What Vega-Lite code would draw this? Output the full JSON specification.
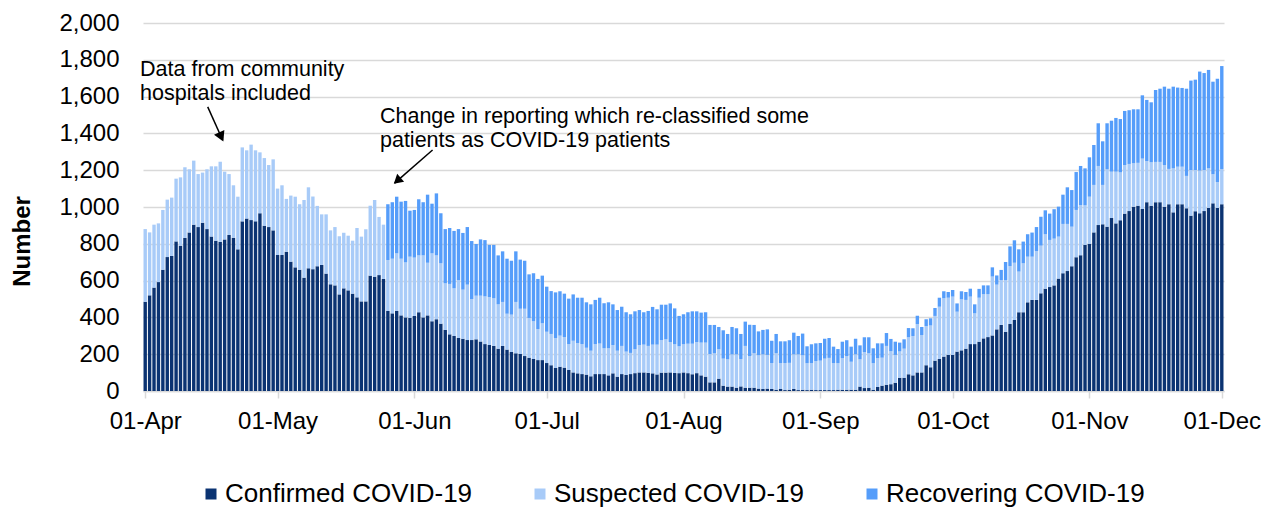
{
  "$schema": "https://vega.github.io/schema/vega-lite/v6.json",
  "width": 1081,
  "height": 368,
  "autosize": {"type": "none"},
  "padding": {"left": 143, "top": 23, "right": 53, "bottom": 118},
  "background": "white",
  "config": {"font": "Liberation Sans", "view": {"stroke": null}},
  "datasets": {
    "daily": [
      {"d":"2020-04-01","a":485,"b":395,"c":0},{"d":"2020-04-02","a":520,"b":342,"c":0},{"d":"2020-04-03","a":562,"b":342,"c":0},{"d":"2020-04-04","a":592,"b":319,"c":0},{"d":"2020-04-05","a":659,"b":325,"c":0},{"d":"2020-04-06","a":728,"b":312,"c":0},{"d":"2020-04-07","a":734,"b":317,"c":0},{"d":"2020-04-08","a":813,"b":341,"c":0},{"d":"2020-04-09","a":790,"b":371,"c":0},{"d":"2020-04-10","a":832,"b":384,"c":0},
      {"d":"2020-04-11","a":862,"b":343,"c":0},{"d":"2020-04-12","a":904,"b":348,"c":0},{"d":"2020-04-13","a":891,"b":288,"c":0},{"d":"2020-04-14","a":915,"b":272,"c":0},{"d":"2020-04-15","a":880,"b":325,"c":0},{"d":"2020-04-16","a":839,"b":382,"c":0},{"d":"2020-04-17","a":817,"b":404,"c":0},{"d":"2020-04-18","a":811,"b":435,"c":0},{"d":"2020-04-19","a":824,"b":368,"c":0},{"d":"2020-04-20","a":848,"b":331,"c":0},
      {"d":"2020-04-21","a":833,"b":285,"c":0},{"d":"2020-04-22","a":770,"b":286,"c":0},{"d":"2020-04-23","a":922,"b":402,"c":0},{"d":"2020-04-24","a":937,"b":371,"c":0},{"d":"2020-04-25","a":929,"b":410,"c":0},{"d":"2020-04-26","a":922,"b":386,"c":0},{"d":"2020-04-27","a":966,"b":331,"c":0},{"d":"2020-04-28","a":898,"b":368,"c":0},{"d":"2020-04-29","a":891,"b":337,"c":0},{"d":"2020-04-30","a":873,"b":386,"c":0},
      {"d":"2020-05-01","a":739,"b":361,"c":0},{"d":"2020-05-02","a":739,"b":379,"c":0},{"d":"2020-05-03","a":757,"b":287,"c":0},{"d":"2020-05-04","a":703,"b":359,"c":0},{"d":"2020-05-05","a":672,"b":384,"c":0},{"d":"2020-05-06","a":659,"b":356,"c":0},{"d":"2020-05-07","a":616,"b":422,"c":0},{"d":"2020-05-08","a":667,"b":440,"c":0},{"d":"2020-05-09","a":662,"b":395,"c":0},{"d":"2020-05-10","a":678,"b":328,"c":0},
      {"d":"2020-05-11","a":685,"b":275,"c":0},{"d":"2020-05-12","a":638,"b":322,"c":0},{"d":"2020-05-13","a":580,"b":293,"c":0},{"d":"2020-05-14","a":574,"b":317,"c":0},{"d":"2020-05-15","a":525,"b":316,"c":0},{"d":"2020-05-16","a":558,"b":302,"c":0},{"d":"2020-05-17","a":547,"b":297,"c":0},{"d":"2020-05-18","a":529,"b":288,"c":0},{"d":"2020-05-19","a":509,"b":377,"c":0},{"d":"2020-05-20","a":487,"b":352,"c":0},
      {"d":"2020-05-21","a":487,"b":392,"c":0},{"d":"2020-05-22","a":627,"b":380,"c":0},{"d":"2020-05-23","a":621,"b":417,"c":0},{"d":"2020-05-24","a":630,"b":316,"c":0},{"d":"2020-05-25","a":609,"b":295,"c":0},{"d":"2020-05-26","a":435,"b":277,"c":303},{"d":"2020-05-27","a":422,"b":297,"c":307},{"d":"2020-05-28","a":435,"b":313,"c":308},{"d":"2020-05-29","a":411,"b":308,"c":310},{"d":"2020-05-30","a":400,"b":299,"c":334},
      {"d":"2020-05-31","a":397,"b":333,"c":250},
      {"d":"2020-06-01","a":408,"b":317,"c":259},{"d":"2020-06-02","a":428,"b":309,"c":305},{"d":"2020-06-03","a":400,"b":337,"c":289},{"d":"2020-06-04","a":411,"b":286,"c":370},{"d":"2020-06-05","a":379,"b":369,"c":270},{"d":"2020-06-06","a":390,"b":347,"c":337},{"d":"2020-06-07","a":366,"b":328,"c":272},{"d":"2020-06-08","a":332,"b":253,"c":295},{"d":"2020-06-09","a":308,"b":274,"c":304},{"d":"2020-06-10","a":299,"b":259,"c":312},
      {"d":"2020-06-11","a":288,"b":315,"c":277},{"d":"2020-06-12","a":284,"b":267,"c":308},{"d":"2020-06-13","a":277,"b":301,"c":313},{"d":"2020-06-14","a":277,"b":223,"c":315},{"d":"2020-06-15","a":281,"b":237,"c":281},{"d":"2020-06-16","a":269,"b":249,"c":306},{"d":"2020-06-17","a":255,"b":259,"c":306},{"d":"2020-06-18","a":250,"b":261,"c":283},{"d":"2020-06-19","a":245,"b":259,"c":290},{"d":"2020-06-20","a":230,"b":241,"c":266},
      {"d":"2020-06-21","a":245,"b":239,"c":275},{"d":"2020-06-22","a":225,"b":195,"c":299},{"d":"2020-06-23","a":212,"b":203,"c":293},{"d":"2020-06-24","a":205,"b":279,"c":275},{"d":"2020-06-25","a":201,"b":246,"c":267},{"d":"2020-06-26","a":190,"b":257,"c":261},{"d":"2020-06-27","a":181,"b":216,"c":237},{"d":"2020-06-28","a":174,"b":205,"c":261},{"d":"2020-06-29","a":168,"b":169,"c":272},{"d":"2020-06-30","a":168,"b":200,"c":259},
      {"d":"2020-07-01","a":152,"b":170,"c":245},{"d":"2020-07-02","a":140,"b":170,"c":233},{"d":"2020-07-03","a":125,"b":163,"c":248},{"d":"2020-07-04","a":132,"b":169,"c":241},{"d":"2020-07-05","a":127,"b":166,"c":236},{"d":"2020-07-06","a":114,"b":141,"c":247},{"d":"2020-07-07","a":101,"b":172,"c":252},{"d":"2020-07-08","a":96,"b":165,"c":246},{"d":"2020-07-09","a":92,"b":163,"c":252},{"d":"2020-07-10","a":89,"b":146,"c":247},
      {"d":"2020-07-11","a":80,"b":139,"c":252},{"d":"2020-07-12","a":92,"b":163,"c":240},{"d":"2020-07-13","a":92,"b":166,"c":249},{"d":"2020-07-14","a":92,"b":140,"c":245},{"d":"2020-07-15","a":85,"b":147,"c":250},{"d":"2020-07-16","a":96,"b":154,"c":221},{"d":"2020-07-17","a":78,"b":141,"c":221},{"d":"2020-07-18","a":92,"b":153,"c":213},{"d":"2020-07-19","a":87,"b":127,"c":214},{"d":"2020-07-20","a":92,"b":115,"c":210},
      {"d":"2020-07-21","a":97,"b":130,"c":206},{"d":"2020-07-22","a":101,"b":149,"c":190},{"d":"2020-07-23","a":101,"b":151,"c":176},{"d":"2020-07-24","a":99,"b":146,"c":190},{"d":"2020-07-25","a":96,"b":156,"c":205},{"d":"2020-07-26","a":90,"b":162,"c":192},{"d":"2020-07-27","a":100,"b":177,"c":192},{"d":"2020-07-28","a":100,"b":181,"c":188},{"d":"2020-07-29","a":101,"b":165,"c":210},{"d":"2020-07-30","a":98,"b":156,"c":195},
      {"d":"2020-07-31","a":97,"b":146,"c":165},
      {"d":"2020-08-01","a":101,"b":153,"c":163},{"d":"2020-08-02","a":97,"b":160,"c":171},{"d":"2020-08-03","a":91,"b":166,"c":176},{"d":"2020-08-04","a":97,"b":169,"c":167},{"d":"2020-08-05","a":85,"b":178,"c":163},{"d":"2020-08-06","a":78,"b":185,"c":165},{"d":"2020-08-07","a":47,"b":154,"c":158},{"d":"2020-08-08","a":47,"b":158,"c":154},{"d":"2020-08-09","a":67,"b":160,"c":121},{"d":"2020-08-10","a":29,"b":147,"c":154},
      {"d":"2020-08-11","a":24,"b":148,"c":138},{"d":"2020-08-12","a":24,"b":175,"c":149},{"d":"2020-08-13","a":18,"b":181,"c":142},{"d":"2020-08-14","a":25,"b":149,"c":136},{"d":"2020-08-15","a":18,"b":227,"c":132},{"d":"2020-08-16","a":18,"b":172,"c":170},{"d":"2020-08-17","a":18,"b":187,"c":154},{"d":"2020-08-18","a":13,"b":181,"c":130},{"d":"2020-08-19","a":11,"b":188,"c":133},{"d":"2020-08-20","a":13,"b":183,"c":139},
      {"d":"2020-08-21","a":11,"b":141,"c":121},{"d":"2020-08-22","a":7,"b":198,"c":105},{"d":"2020-08-23","a":11,"b":141,"c":118},{"d":"2020-08-24","a":5,"b":147,"c":118},{"d":"2020-08-25","a":7,"b":146,"c":123},{"d":"2020-08-26","a":11,"b":188,"c":118},{"d":"2020-08-27","a":5,"b":194,"c":100},{"d":"2020-08-28","a":7,"b":187,"c":118},{"d":"2020-08-29","a":5,"b":146,"c":92},{"d":"2020-08-30","a":7,"b":145,"c":102},
      {"d":"2020-08-31","a":5,"b":158,"c":96},
      {"d":"2020-09-01","a":5,"b":160,"c":96},{"d":"2020-09-02","a":5,"b":171,"c":108},{"d":"2020-09-03","a":5,"b":175,"c":108},{"d":"2020-09-04","a":5,"b":147,"c":89},{"d":"2020-09-05","a":7,"b":144,"c":77},{"d":"2020-09-06","a":7,"b":171,"c":90},{"d":"2020-09-07","a":7,"b":183,"c":86},{"d":"2020-09-08","a":7,"b":152,"c":82},{"d":"2020-09-09","a":7,"b":192,"c":85},{"d":"2020-09-10","a":24,"b":148,"c":76},
      {"d":"2020-09-11","a":16,"b":196,"c":80},{"d":"2020-09-12","a":18,"b":187,"c":87},{"d":"2020-09-13","a":7,"b":144,"c":81},{"d":"2020-09-14","a":22,"b":156,"c":81},{"d":"2020-09-15","a":29,"b":152,"c":78},{"d":"2020-09-16","a":34,"b":211,"c":70},{"d":"2020-09-17","a":37,"b":179,"c":67},{"d":"2020-09-18","a":45,"b":151,"c":72},{"d":"2020-09-19","a":72,"b":143,"c":48},{"d":"2020-09-20","a":72,"b":158,"c":51},
      {"d":"2020-09-21","a":91,"b":201,"c":50},{"d":"2020-09-22","a":85,"b":214,"c":42},{"d":"2020-09-23","a":101,"b":263,"c":45},{"d":"2020-09-24","a":101,"b":203,"c":44},{"d":"2020-09-25","a":140,"b":213,"c":37},{"d":"2020-09-26","a":129,"b":227,"c":39},{"d":"2020-09-27","a":165,"b":243,"c":43},{"d":"2020-09-28","a":174,"b":284,"c":49},{"d":"2020-09-29","a":187,"b":317,"c":38},{"d":"2020-09-30","a":196,"b":311,"c":31},
      {"d":"2020-10-01","a":196,"b":317,"c":36},{"d":"2020-10-02","a":214,"b":217,"c":45},{"d":"2020-10-03","a":221,"b":277,"c":44},{"d":"2020-10-04","a":230,"b":265,"c":43},{"d":"2020-10-05","a":255,"b":258,"c":43},{"d":"2020-10-06","a":255,"b":167,"c":49},{"d":"2020-10-07","a":268,"b":239,"c":48},{"d":"2020-10-08","a":286,"b":240,"c":48},{"d":"2020-10-09","a":293,"b":233,"c":48},{"d":"2020-10-10","a":302,"b":320,"c":50},
      {"d":"2020-10-11","a":335,"b":243,"c":50},{"d":"2020-10-12","a":359,"b":244,"c":55},{"d":"2020-10-13","a":322,"b":281,"c":98},{"d":"2020-10-14","a":364,"b":315,"c":107},{"d":"2020-10-15","a":386,"b":311,"c":122},{"d":"2020-10-16","a":428,"b":221,"c":121},{"d":"2020-10-17","a":428,"b":266,"c":118},{"d":"2020-10-18","a":482,"b":248,"c":122},{"d":"2020-10-19","a":495,"b":235,"c":131},{"d":"2020-10-20","a":495,"b":266,"c":130},
      {"d":"2020-10-21","a":531,"b":259,"c":157},{"d":"2020-10-22","a":556,"b":296,"c":130},{"d":"2020-10-23","a":565,"b":256,"c":143},{"d":"2020-10-24","a":574,"b":254,"c":160},{"d":"2020-10-25","a":611,"b":228,"c":163},{"d":"2020-10-26","a":640,"b":268,"c":159},{"d":"2020-10-27","a":652,"b":256,"c":199},{"d":"2020-10-28","a":678,"b":215,"c":199},{"d":"2020-10-29","a":727,"b":257,"c":206},{"d":"2020-10-30","a":738,"b":273,"c":212},
      {"d":"2020-10-31","a":794,"b":215,"c":201},
      {"d":"2020-11-01","a":800,"b":256,"c":214},{"d":"2020-11-02","a":862,"b":258,"c":217},{"d":"2020-11-03","a":902,"b":321,"c":232},{"d":"2020-11-04","a":906,"b":214,"c":237},{"d":"2020-11-05","a":893,"b":312,"c":250},{"d":"2020-11-06","a":940,"b":252,"c":277},{"d":"2020-11-07","a":911,"b":281,"c":292},{"d":"2020-11-08","a":928,"b":260,"c":290},{"d":"2020-11-09","a":964,"b":264,"c":294},{"d":"2020-11-10","a":978,"b":256,"c":292},
      {"d":"2020-11-11","a":1002,"b":236,"c":293},{"d":"2020-11-12","a":1007,"b":233,"c":291},{"d":"2020-11-13","a":989,"b":274,"c":344},{"d":"2020-11-14","a":1026,"b":224,"c":332},{"d":"2020-11-15","a":1007,"b":236,"c":326},{"d":"2020-11-16","a":1026,"b":219,"c":391},{"d":"2020-11-17","a":1026,"b":219,"c":398},{"d":"2020-11-18","a":1002,"b":226,"c":426},{"d":"2020-11-19","a":1015,"b":192,"c":436},{"d":"2020-11-20","a":971,"b":239,"c":444},
      {"d":"2020-11-21","a":1015,"b":204,"c":430},{"d":"2020-11-22","a":1015,"b":204,"c":428},{"d":"2020-11-23","a":993,"b":176,"c":474},{"d":"2020-11-24","a":953,"b":248,"c":486},{"d":"2020-11-25","a":977,"b":224,"c":491},{"d":"2020-11-26","a":966,"b":232,"c":538},{"d":"2020-11-27","a":978,"b":223,"c":527},{"d":"2020-11-28","a":995,"b":215,"c":535},{"d":"2020-11-29","a":1020,"b":158,"c":503},{"d":"2020-11-30","a":995,"b":141,"c":561},
      {"d":"2020-12-01","a":1015,"b":191,"c":560}
    ],
    "notes": [
      {"d":"2020-03-30T20:00:00Z","v":1804,"label":"Data from community\nhospitals included"},
      {"d":"2020-05-24T05:00:00Z","v":1549,"label":"Change in reporting which re-classified some\npatients as COVID-19 patients"}
    ],
    "arrows": [
      {"d":"2020-04-15T04:00:00Z","v":1544,"d2":"2020-04-18T13:00:00Z","v2":1364},
      {"d":"2020-06-05T03:00:00Z","v":1310,"d2":"2020-05-27T12:30:00Z","v2":1130}
    ]
  },
  "layer": [
    {
      "data": {"name": "daily"},
      "transform": [{"fold": ["a", "b", "c"], "as": ["series", "count"]}],
      "mark": {"type": "bar", "size": 3.4},
      "encoding": {
        "x": {
          "field": "d", "type": "temporal",
          "scale": {"type": "utc", "padding": 0, "domain": [{"year":2020,"month":3,"date":31,"hours":12,"utc":true},{"year":2020,"month":12,"date":1,"hours":12,"utc":true}]},
          "axis": {
            "title": null, "grid": false,
            "values": [
              {"year":2020,"month":4,"date":1,"utc":true},{"year":2020,"month":5,"date":1,"utc":true},{"year":2020,"month":6,"date":1,"utc":true},
              {"year":2020,"month":7,"date":1,"utc":true},{"year":2020,"month":8,"date":1,"utc":true},{"year":2020,"month":9,"date":1,"utc":true},
              {"year":2020,"month":10,"date":1,"utc":true},{"year":2020,"month":11,"date":1,"utc":true},{"year":2020,"month":12,"date":1,"utc":true}
            ],
            "labelExpr": "utcFormat(datum.value, '%d-%b')",
            "labelFontSize": 24, "labelColor": "#000", "labelPadding": 11, "labelFlush": false, "labelOverlap": false,
            "domainColor": "#d9d9d9", "domainWidth": 1.5, "tickColor": "#d9d9d9", "tickSize": 7, "tickWidth": 1.5
          }
        },
        "y": {
          "field": "count", "type": "quantitative", "stack": "zero",
          "scale": {"domain": [0, 2000], "nice": false},
          "axis": {
            "values": [0,200,400,600,800,1000,1200,1400,1600,1800,2000],
            "format": ",d", "labelFontSize": 24, "labelColor": "#000", "labelPadding": 24,
            "ticks": false, "domain": false, "grid": true, "gridColor": "#d9d9d9", "gridWidth": 1.5,
            "title": "Number", "titleFontSize": 24, "titleFontWeight": "bold", "titleColor": "#000",
            "titleX": -121, "titleY": 218, "titleAngle": 270, "titleAlign": "center", "titleBaseline": "middle"
          }
        },
        "color": {
          "field": "series", "type": "nominal",
          "scale": {"domain": ["a", "b", "c"], "range": ["#0b3372", "#a8cbf8", "#559dfa"]},
          "legend": {
            "orient": "none", "legendX": 55, "legendY": 458, "direction": "horizontal", "title": null,
            "symbolType": "square", "symbolSize": 121, "symbolStrokeWidth": 0, "labelFontSize": 26, "labelColor": "#000",
            "labelOffset": 1, "columnPadding": 54, "labelLimit": 500,
            "labelExpr": "datum.label == 'a' ? 'Confirmed COVID-19' : datum.label == 'b' ? 'Suspected COVID-19' : 'Recovering COVID-19'"
          }
        },
        "order": {"field": "series", "sort": "ascending"}
      }
    },
    {
      "encoding": {
        "x": {
          "field": "d", "type": "temporal",
          "scale": {"type": "utc", "padding": 0, "domain": [{"year":2020,"month":3,"date":31,"hours":12,"utc":true},{"year":2020,"month":12,"date":1,"hours":12,"utc":true}]},
          "axis": {
            "title": null, "grid": false,
            "values": [
              {"year":2020,"month":4,"date":1,"utc":true},{"year":2020,"month":5,"date":1,"utc":true},{"year":2020,"month":6,"date":1,"utc":true},
              {"year":2020,"month":7,"date":1,"utc":true},{"year":2020,"month":8,"date":1,"utc":true},{"year":2020,"month":9,"date":1,"utc":true},
              {"year":2020,"month":10,"date":1,"utc":true},{"year":2020,"month":11,"date":1,"utc":true},{"year":2020,"month":12,"date":1,"utc":true}
            ],
            "labelExpr": "utcFormat(datum.value, '%d-%b')",
            "labelFontSize": 24, "labelColor": "#000", "labelPadding": 11, "labelFlush": false, "labelOverlap": false,
            "domainColor": "#d9d9d9", "domainWidth": 1.5, "tickColor": "#d9d9d9", "tickSize": 7, "tickWidth": 1.5
          }
        },
        "y": {
          "field": "v", "type": "quantitative",
          "scale": {"domain": [0, 2000], "nice": false},
          "axis": {
            "values": [0,200,400,600,800,1000,1200,1400,1600,1800,2000],
            "format": ",d", "labelFontSize": 24, "labelColor": "#000", "labelPadding": 24,
            "ticks": false, "domain": false, "grid": true, "gridColor": "#d9d9d9", "gridWidth": 1.5,
            "title": "Number", "titleFontSize": 24, "titleFontWeight": "bold", "titleColor": "#000",
            "titleX": -121, "titleY": 218, "titleAngle": 270, "titleAlign": "center", "titleBaseline": "middle"
          }
        }
      },
      "layer": [
        {
          "data": {"name": "notes"},
          "mark": {"type": "text", "align": "left", "baseline": "top", "fontSize": 21.5, "lineBreak": "\n", "lineHeight": 24, "color": "#000"},
          "encoding": {"text": {"field": "label"}}
        },
        {
          "data": {"name": "arrows"},
          "mark": {"type": "rule", "color": "#000", "strokeWidth": 1.5},
          "encoding": {"x2": {"field": "d2"}, "y2": {"field": "v2"}}
        },
        {
          "data": {"values": [{"d":"2020-04-18T02:00:00Z","v":1389}]},
          "mark": {"type": "point", "shape": "triangle", "filled": true, "color": "#000", "size": 130, "angle": 155, "opacity": 1},
          "encoding": {}
        },
        {
          "data": {"values": [{"d":"2020-05-28T09:00:00Z","v":1148}]},
          "mark": {"type": "point", "shape": "triangle", "filled": true, "color": "#000", "size": 110, "angle": 229, "opacity": 1},
          "encoding": {}
        }
      ]
    }
  ]
}
